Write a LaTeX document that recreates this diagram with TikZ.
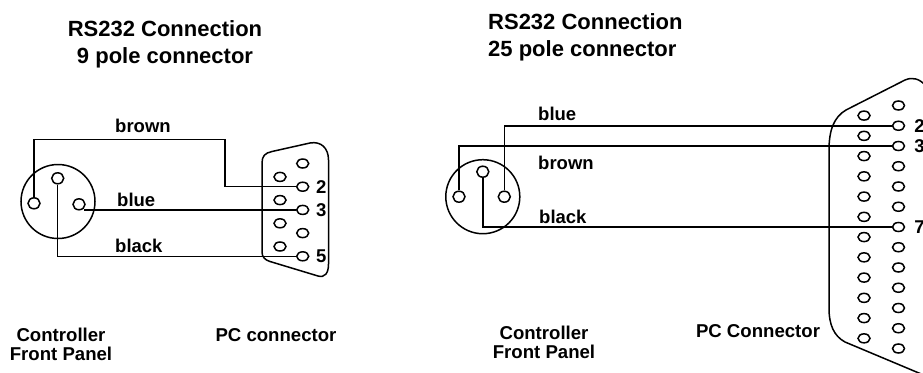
\documentclass[tikz,border=0pt]{standalone}
\usepackage{fontspec}
\setmainfont{Liberation Sans}
\usetikzlibrary{shapes.geometric}

\tikzset{
  wire/.style={line width=1.5pt},
  socket/.style={circle, draw, line width=1.5pt, minimum size=74pt, inner sep=0pt},
  plug/.style={ellipse, draw, line width=1.5pt, minimum width=12pt, minimum height=11pt, inner sep=0pt},
  hole/.style={ellipse, draw, line width=1.5pt, minimum width=12pt, minimum height=9pt, inner sep=0pt},
  wirename/.style={anchor=west, inner sep=0pt, font=\bfseries\fontsize{18.5}{19}\selectfont},
  pinno/.style={inner sep=0pt, font=\bfseries\fontsize{18.5}{19}\selectfont},
  heading/.style={inner sep=0pt, font=\bfseries\fontsize{22}{27}\selectfont},
  caption/.style={inner sep=0pt, anchor=north, align=center, font=\bfseries\fontsize{18.6}{18.8}\selectfont}
}

\begin{document}
\begin{tikzpicture}[x=1pt,y=-1pt]
\useasboundingbox (0,0) rectangle (923,372);

% Define nodes
\path (58,201.5) node[socket] (ctlA) {}
  +(-24,1.8) node[plug] (ctlAleft) {}
  +(-0.3,-23.2) node[plug] (ctlAtop) {}
  +(21,2.8) node[plug] (ctlAright) {}
  (225,139.3) coordinate (bendA)
;
\path (482.8,196.7) node[socket] (ctlB) {}
  +(-23.8,0) node[plug] (ctlBleft) {}
  +(0,-25) node[plug] (ctlBtop) {}
  +(21.5,0) node[plug] (ctlBright) {}
;

% 9 pole
\foreach \k in {1,...,5}
  \node[hole] (pcA\k) at (302.7,{163.5+23.2*(\k-1)}) {};
\foreach \k in {6,...,9}
  \node[hole] (pcA\k) at (280,{176.9+23.2*(\k-6)}) {};
\draw[wire] (262,163) .. controls (262,156) and (265,153) .. (272,151.5)
  -- (310,143) .. controls (321,141) and (328.5,148) .. (328.5,160)
  -- (328.5,264) .. controls (328.5,273) and (325,278) .. (318,276)
  -- (270,261.5) .. controls (265,260) and (262,257) .. (262,252) -- cycle;

% 25 pole
\foreach \k in {1,...,13}
  \node[hole] (pcB\k) at (898.5,{105.5+20.25*(\k-1)}) {};
\foreach \k in {14,...,25}
  \node[hole] (pcB\k) at (864,{115.6+20.25*(\k-14)}) {};
\draw[wire] (926,86) .. controls (919,78) and (912,77) .. (905,80)
  -- (846,110) .. controls (834,117) and (829,130) .. (829,150)
  -- (829,308) .. controls (829,325) and (834,336) .. (845,342)
  -- (926,376);

% Wires
\draw[wire] (ctlAleft.north) |- (bendA) |- (pcA2.west);
\draw[wire] (ctlAright.-40 |- pcA3.west) -- (pcA3.west);
\draw[wire] (ctlAtop.south) |- (pcA5.west);
\draw[wire] (ctlBright.north) |- (pcB2.west);
\draw[wire] (ctlBleft.north) |- (pcB3.west);
\draw[wire] (ctlBtop.south) |- (pcB7.west);

% Labels
\node[wirename] (brownA) at (115,126) {brown};
\node[wirename] (blueA) at (117,200) {blue};
\node[wirename] (blackA) at (115,246) {black};
\node[wirename] (blueB) at (538,114) {blue};
\node[wirename] (brownB) at (538,163) {brown};
\node[wirename] (blackB) at (539,217) {black};

\path (pcA2) +(18.5,0) node[pinno] (numA2) {2}
  (pcA3) +(18.5,0) node[pinno] (numA3) {3}
  (pcA5) +(18.5,0) node[pinno] (numA5) {5}
  (pcB2) +(21,0) node[pinno] (numB2) {2}
  (pcB3) +(21,0) node[pinno] (numB3) {3}
  (pcB7) +(21,0) node[pinno] (numB7) {7}
;

\node[heading, anchor=north, align=center] (titleA) at (165,20)
  {RS232 Connection\\9 pole connector};
\node[heading, anchor=north west, align=left] (titleB) at (488,13)
  {RS232 Connection\\25 pole connector};

\node[caption] (frontA) at (61,328) {Controller\\Front Panel};
\node[caption] (pcnameA) at (276,328) {PC connector};
\node[caption] (frontB) at (544,326) {Controller\\Front Panel};
\node[caption] (pcnameB) at (758,324) {PC Connector};

\end{tikzpicture}
\end{document}
